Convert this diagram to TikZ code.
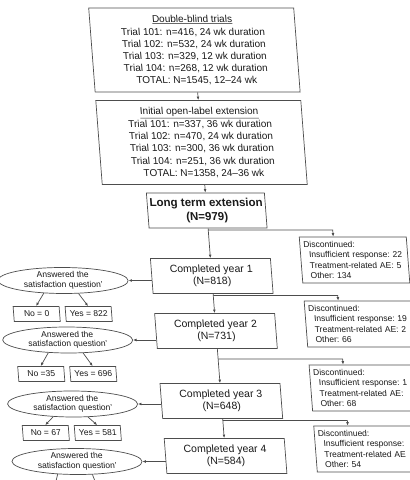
\documentclass[tikz,border=0pt]{standalone}
\usepackage{fontspec}
\setmainfont{Liberation Sans}
\usetikzlibrary{shapes.geometric,arrows.meta}
\definecolor{frameline}{HTML}{4D4D4D}
\definecolor{inktext}{HTML}{1A1A1A}
\begin{document}
\begin{tikzpicture}[x=1pt,y=1pt,
  every node/.style={text=inktext},
  trialbox/.style={draw=frameline, line width=0.7pt, align=center, minimum width=205pt, minimum height=84pt, inner sep=3pt, font=\fontsize{10}{12.2}\selectfont},
  mainbox/.style={draw=frameline, line width=0.7pt, align=center, minimum width=118pt, minimum height=35pt, inner sep=2pt, font=\fontsize{11.5}{13.5}\selectfont\bfseries},
  yearbox/.style={draw=frameline, line width=0.7pt, align=center, minimum width=120pt, minimum height=35pt, inner sep=2pt, font=\fontsize{10.5}{12}\selectfont},
  askoval/.style={draw=frameline, line width=0.7pt, ellipse, align=center, minimum width=130pt, minimum height=26pt, inner sep=0pt, font=\fontsize{8.5}{9.5}\selectfont},
  answerbox/.style={draw=frameline, line width=0.7pt, minimum width=46pt, minimum height=15pt, inner sep=1pt, font=\fontsize{8.5}{10}\selectfont},
  dropbox/.style={draw=frameline, line width=0.7pt, text width=100pt, align=left, minimum height=46pt, inner sep=3.5pt, font=\fontsize{8.5}{10.3}\selectfont},
  flow/.style={draw=frameline, line width=0.7pt, -{Latex[length=3.5pt,width=2.8pt]}}]
\useasboundingbox (-205,-240) rectangle (205,240);
\fill[white] (-205,-240) rectangle (205,240);
\clip (-205,-240) rectangle (205,240);
\begin{scope}[cm={1,0,-0.0767,1,(0,0)}, transform shape]
\node[trialbox] (dbt) at (4,190) {\underline{Double-blind trials}\\[0.8pt]Trial 101: n=416, 24 wk duration\\Trial 102: n=532, 24 wk duration\\Trial 103: n=329, 12 wk duration\\Trial 104: n=268, 12 wk duration\\TOTAL: N=1545, 12--24 wk};
\node[trialbox] (ole) at (4,97.5) {\underline{Initial open-label extension}\\[0.8pt]Trial 101: n=337, 36 wk duration\\Trial 102: n=470, 24 wk duration\\Trial 103: n=300, 36 wk duration\\Trial 104: n=251, 36 wk duration\\TOTAL: N=1358, 24--36 wk};
\node[mainbox] (lte) at (4,29.5) {Long term extension\\(N=979)};
\node[yearbox] (y1) at (4,-36) {Completed year 1\\(N=818)};
\node[yearbox] (y2) at (4,-91) {Completed year 2\\(N=731)};
\node[yearbox] (y3) at (4,-161) {Completed year 3\\(N=648)};
\node[yearbox] (y4) at (4,-216) {Completed year 4\\(N=584)};
\node[askoval] (q1) at (-145,-40.5) {Answered the\\satisfaction question'};
\node[askoval] (q2) at (-145,-100) {Answered the\\satisfaction question'};
\node[askoval] (q3) at (-145,-164) {Answered the\\satisfaction question'};
\node[askoval] (q4) at (-145,-221.5) {Answered the\\satisfaction question'};
\node[answerbox] (no1) at (-174,-74) {No = 0};
\node[answerbox] (yes1) at (-122,-74) {Yes = 822};
\node[answerbox] (no2) at (-174,-134) {No =35};
\node[answerbox] (yes2) at (-122,-134) {Yes = 696};
\node[answerbox] (no3) at (-174,-193) {No = 67};
\node[answerbox] (yes3) at (-122,-193) {Yes = 581};
\coordinate (no4end) at (-174,-262);
\coordinate (yes4end) at (-122,-262);
\node[dropbox] (d1) at (148,-20) {Discontinued:\\\hspace*{5pt}Insufficient~response:~22\\\hspace*{5pt}Treatment-related~AE:~5\\\hspace*{5pt}Other:~134};
\node[dropbox] (d2) at (148,-84) {Discontinued:\\\hspace*{5pt}Insufficient~response:~19\\\hspace*{5pt}Treatment-related~AE:~2\\\hspace*{5pt}Other:~66};
\node[dropbox] (d3) at (148,-148) {Discontinued:\\\hspace*{5pt}Insufficient~response:~1\\\hspace*{5pt}Treatment-related~AE:\\\hspace*{5pt}Other:~68};
\node[dropbox] (d4) at (148,-209) {Discontinued:\\\hspace*{5pt}Insufficient~response:\\\hspace*{5pt}Treatment-related~AE\\\hspace*{5pt}Other:~54};
\coordinate (b1) at (4,10);
\coordinate (k1) at (128.5,10);
\coordinate (b2) at (4,-55.5);
\coordinate (k2) at (128.5,-55.5);
\coordinate (b3) at (4,-119);
\coordinate (k3) at (128.5,-119);
\coordinate (b4) at (4,-180.5);
\coordinate (k4) at (128.5,-180.5);
\draw[flow] (dbt) -- (ole);
\draw[flow] (ole) -- (lte);
\draw[flow] (lte) -- (y1);
\draw[flow] (y1) -- (y2);
\draw[flow] (y2) -- (y3);
\draw[flow] (y3) -- (y4);
\draw[flow] (b1) -- (k1) -- (k1 |- d1.north);
\draw[flow] (b2) -- (k2) -- (k2 |- d2.north);
\draw[flow] (b3) -- (k3) -- (k3 |- d3.north);
\draw[flow] (b4) -- (k4) -- (k4 |- d4.north);
\draw[flow] (y1.west |- q1.east) -- (q1.east);
\draw[flow] (y2.west |- q2.east) -- (q2.east);
\draw[flow] (y3.west |- q3.east) -- (q3.east);
\draw[flow] (y4.west |- q4.east) -- (q4.east);
\draw[flow] (q1.212) -- (no1.north);
\draw[flow] (q1.318) -- (yes1.north);
\draw[flow] (q2.212) -- (no2.north);
\draw[flow] (q2.318) -- (yes2.north);
\draw[flow] (q3.212) -- (no3.north);
\draw[flow] (q3.318) -- (yes3.north);
\draw[flow] (q4.212) -- (no4end);
\draw[flow] (q4.318) -- (yes4end);
\end{scope}
\end{tikzpicture}
\end{document}
